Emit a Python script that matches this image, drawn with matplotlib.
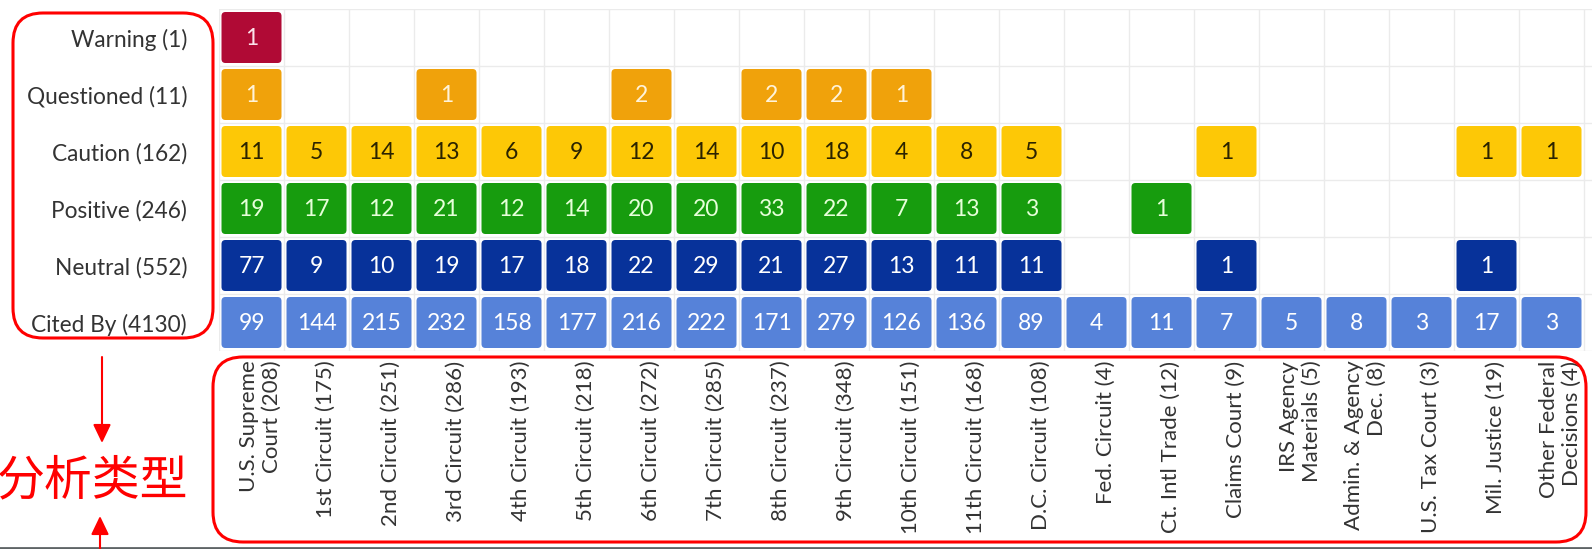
import numpy as np
import matplotlib
matplotlib.use("Agg")
import matplotlib.pyplot as plt
from matplotlib.patches import FancyBboxPatch
from matplotlib.transforms import ScaledTranslation

plt.rcParams['font.family'] = ['Lato', 'DejaVu Sans']

# data
rows = ["Warning (1)", "Questioned (11)", "Caution (162)", "Positive (246)",
        "Neutral (552)", "Cited By (4130)"]
courts = ["U.S. Supreme\nCourt (208)", "1st Circuit (175)", "2nd Circuit (251)",
          "3rd Circuit (286)", "4th Circuit (193)", "5th Circuit (218)",
          "6th Circuit (272)", "7th Circuit (285)", "8th Circuit (237)",
          "9th Circuit (348)", "10th Circuit (151)", "11th Circuit (168)",
          "D.C. Circuit (108)", "Fed. Circuit (4)", "Ct. Intl Trade (12)",
          "Claims Court (9)", "IRS Agency\nMaterials (5)", "Admin. & Agency\nDec. (8)",
          "U.S. Tax Court (3)", "Mil. Justice (19)", "Other Federal\nDecisions (4)"]
N = None
warning    = [1, N, N, N, N, N, N, N, N, N, N, N, N, N, N, N, N, N, N, N, N]
questioned = [1, N, N, 1, N, N, 2, N, 2, 2, 1, N, N, N, N, N, N, N, N, N, N]
caution    = [11, 5, 14, 13, 6, 9, 12, 14, 10, 18, 4, 8, 5, N, N, 1, N, N, N, 1, 1]
positive   = [19, 17, 12, 21, 12, 14, 20, 20, 33, 22, 7, 13, 3, N, 1, N, N, N, N, N, N]
neutral    = [77, 9, 10, 19, 17, 18, 22, 29, 21, 27, 13, 11, 11, N, N, 1, N, N, N, 1, N]
cited_by   = [99, 144, 215, 232, 158, 177, 216, 222, 171, 279, 126, 136, 89,
              4, 11, 7, 5, 8, 3, 17, 3]
series = [warning, questioned, caution, positive, neutral, cited_by]
box_colors = ['#b00a35', '#f0a20b', '#fdc806', '#179c0e', '#07329a', '#5682d9']
txt_colors = ['#fbe3ea', '#fff3da', '#2b2300', '#e6ffd9', '#ffffff', '#ffffff']

W, H = 1592, 549
fig = plt.figure(figsize=(W / 100, H / 100), dpi=100)

# heatmap grid, each cell 65 x 57 px
x0, y0, y1 = 219, 9, 351
ax = fig.add_axes([x0 / W, 1 - y1 / H, (W - x0) / W, (y1 - y0) / H])
ax.set_xlim(0, (W - x0) / 65)
ax.set_ylim(len(rows), 0)
for s in ax.spines.values():
    s.set_visible(False)
for i in range(len(courts) + 2):
    ax.axvline(i, color='#ebebeb', lw=1, zorder=0)
for j in range(len(rows) + 1):
    ax.axhline(j, color='#ebebeb', lw=1, zorder=0)

gx, gy = 2.5 / 65, 3 / 57
for r, vals in enumerate(series):
    for c, v in enumerate(vals):
        if v is None:
            continue
        p = FancyBboxPatch((c + gx, r + gy), 1 - 2 * gx, 1 - 2 * gy,
                           boxstyle="round,pad=0,rounding_size=%f" % (4 / 65),
                           mutation_aspect=65 / 57, fc=box_colors[r], ec='none')
        ax.add_patch(p)
        ax.text(c + 0.5, r + 0.52, str(v), ha='center', va='center',
                fontsize=16.5, color=txt_colors[r])

ax.set_yticks(np.arange(len(rows)) + 0.5)
ax.set_yticklabels(rows, fontsize=16.3, color='#333333')
ax.set_xticks(np.arange(len(courts)) + 0.5)
ax.set_xticklabels(courts, rotation=90, va='top', ha='center',
                   multialignment='right', fontsize=16, color='#333333',
                   linespacing=1.15)
ax.tick_params(length=0, pad=7)
ax.tick_params(axis='y', pad=23)
for lbl in ax.get_xticklabels():
    lbl.set_transform(lbl.get_transform() + ScaledTranslation(0.09, 0, fig.dpi_scale_trans))

# red annotation overlay in pixel units
ov = fig.add_axes([0, 0, 1, 1], zorder=5)
ov.set_xlim(0, W)
ov.set_ylim(H, 0)
ov.axis('off')
ov.patch.set_alpha(0)

ov.add_patch(FancyBboxPatch((13, 13), 200, 325, boxstyle="round,pad=0,rounding_size=30",
                            fill=False, ec='#ff0000', lw=2.2))
ov.add_patch(FancyBboxPatch((213, 357), 1373, 185, boxstyle="round,pad=0,rounding_size=30",
                            fill=False, ec='#ff0000', lw=2.2))
arrow = dict(arrowstyle='-|>,head_length=0.75,head_width=0.36', mutation_scale=15,
             color='#ff0000', lw=1.5, shrinkA=0, shrinkB=0)
ov.annotate('', xy=(102, 443), xytext=(102, 357), arrowprops=arrow)
ov.annotate('', xy=(100, 516), xytext=(100, 552), arrowprops=arrow)
ov.text(93, 481, "分析类型", ha='center', va='center', fontsize=34.5, color='#ff0000',
        family=['Noto Sans CJK SC', 'DejaVu Sans'])
ov.axhline(548, color='#5e6466', lw=2)

fig.savefig("out.png", dpi=100)
